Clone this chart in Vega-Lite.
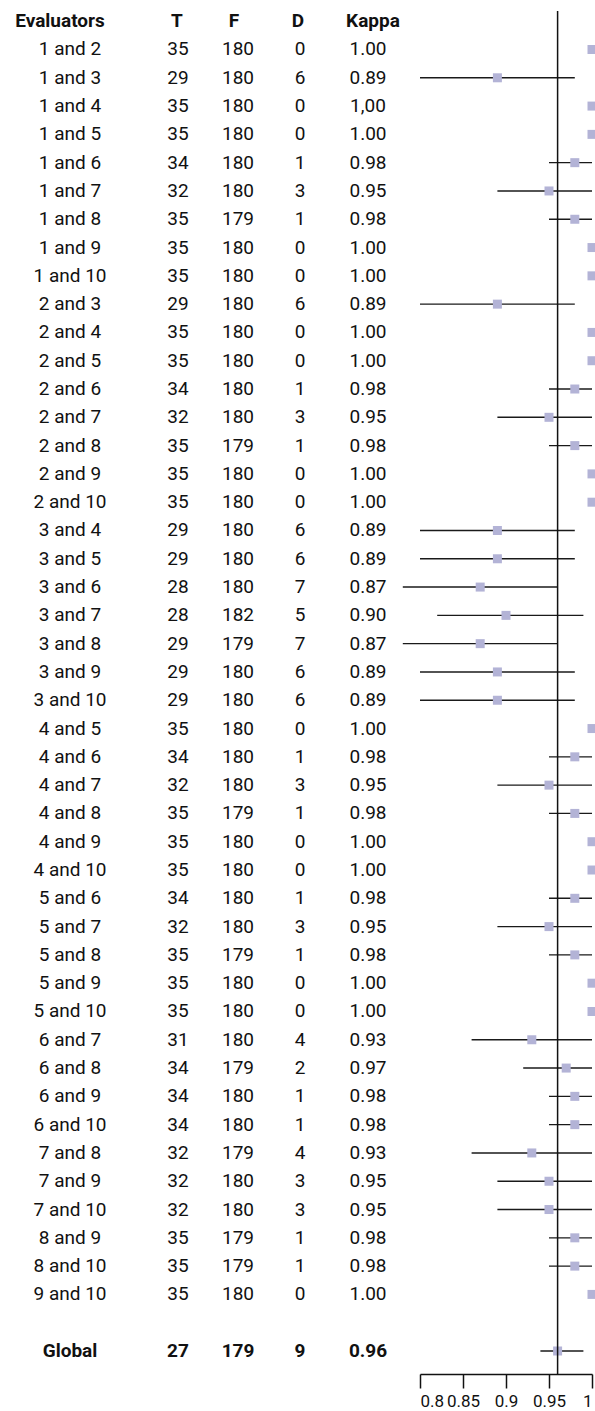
{
  "$schema": "https://vega.github.io/schema/vega-lite/v6.json",
  "padding": {"left": 0, "top": 10, "right": 0, "bottom": 0},
  "spacing": 0,
  "bounds": "flush",
  "config": {
    "view": {"stroke": null},
    "text": {"font": "Roboto", "fontSize": 19, "color": "#111111", "baseline": "middle", "align": "center"},
    "axis": {"labelFont": "Roboto"}
  },
  "datasets": {
    "pairs": [
      {"Evaluators": "1 and 2", "T": 35, "F": 180, "D": 0, "Kappa": "1.00", "k": 1.0, "lo": 1.0, "hi": 1.0},
      {"Evaluators": "1 and 3", "T": 29, "F": 180, "D": 6, "Kappa": "0.89", "k": 0.89, "lo": 0.80, "hi": 0.98},
      {"Evaluators": "1 and 4", "T": 35, "F": 180, "D": 0, "Kappa": "1,00", "k": 1.0, "lo": 1.0, "hi": 1.0},
      {"Evaluators": "1 and 5", "T": 35, "F": 180, "D": 0, "Kappa": "1.00", "k": 1.0, "lo": 1.0, "hi": 1.0},
      {"Evaluators": "1 and 6", "T": 34, "F": 180, "D": 1, "Kappa": "0.98", "k": 0.98, "lo": 0.95, "hi": 1.0},
      {"Evaluators": "1 and 7", "T": 32, "F": 180, "D": 3, "Kappa": "0.95", "k": 0.95, "lo": 0.89, "hi": 1.0},
      {"Evaluators": "1 and 8", "T": 35, "F": 179, "D": 1, "Kappa": "0.98", "k": 0.98, "lo": 0.95, "hi": 1.0},
      {"Evaluators": "1 and 9", "T": 35, "F": 180, "D": 0, "Kappa": "1.00", "k": 1.0, "lo": 1.0, "hi": 1.0},
      {"Evaluators": "1 and 10", "T": 35, "F": 180, "D": 0, "Kappa": "1.00", "k": 1.0, "lo": 1.0, "hi": 1.0},
      {"Evaluators": "2 and 3", "T": 29, "F": 180, "D": 6, "Kappa": "0.89", "k": 0.89, "lo": 0.80, "hi": 0.98},
      {"Evaluators": "2 and 4", "T": 35, "F": 180, "D": 0, "Kappa": "1.00", "k": 1.0, "lo": 1.0, "hi": 1.0},
      {"Evaluators": "2 and 5", "T": 35, "F": 180, "D": 0, "Kappa": "1.00", "k": 1.0, "lo": 1.0, "hi": 1.0},
      {"Evaluators": "2 and 6", "T": 34, "F": 180, "D": 1, "Kappa": "0.98", "k": 0.98, "lo": 0.95, "hi": 1.0},
      {"Evaluators": "2 and 7", "T": 32, "F": 180, "D": 3, "Kappa": "0.95", "k": 0.95, "lo": 0.89, "hi": 1.0},
      {"Evaluators": "2 and 8", "T": 35, "F": 179, "D": 1, "Kappa": "0.98", "k": 0.98, "lo": 0.95, "hi": 1.0},
      {"Evaluators": "2 and 9", "T": 35, "F": 180, "D": 0, "Kappa": "1.00", "k": 1.0, "lo": 1.0, "hi": 1.0},
      {"Evaluators": "2 and 10", "T": 35, "F": 180, "D": 0, "Kappa": "1.00", "k": 1.0, "lo": 1.0, "hi": 1.0},
      {"Evaluators": "3 and 4", "T": 29, "F": 180, "D": 6, "Kappa": "0.89", "k": 0.89, "lo": 0.80, "hi": 0.98},
      {"Evaluators": "3 and 5", "T": 29, "F": 180, "D": 6, "Kappa": "0.89", "k": 0.89, "lo": 0.80, "hi": 0.98},
      {"Evaluators": "3 and 6", "T": 28, "F": 180, "D": 7, "Kappa": "0.87", "k": 0.87, "lo": 0.78, "hi": 0.96},
      {"Evaluators": "3 and 7", "T": 28, "F": 182, "D": 5, "Kappa": "0.90", "k": 0.90, "lo": 0.82, "hi": 0.99},
      {"Evaluators": "3 and 8", "T": 29, "F": 179, "D": 7, "Kappa": "0.87", "k": 0.87, "lo": 0.78, "hi": 0.96},
      {"Evaluators": "3 and 9", "T": 29, "F": 180, "D": 6, "Kappa": "0.89", "k": 0.89, "lo": 0.80, "hi": 0.98},
      {"Evaluators": "3 and 10", "T": 29, "F": 180, "D": 6, "Kappa": "0.89", "k": 0.89, "lo": 0.80, "hi": 0.98},
      {"Evaluators": "4 and 5", "T": 35, "F": 180, "D": 0, "Kappa": "1.00", "k": 1.0, "lo": 1.0, "hi": 1.0},
      {"Evaluators": "4 and 6", "T": 34, "F": 180, "D": 1, "Kappa": "0.98", "k": 0.98, "lo": 0.95, "hi": 1.0},
      {"Evaluators": "4 and 7", "T": 32, "F": 180, "D": 3, "Kappa": "0.95", "k": 0.95, "lo": 0.89, "hi": 1.0},
      {"Evaluators": "4 and 8", "T": 35, "F": 179, "D": 1, "Kappa": "0.98", "k": 0.98, "lo": 0.95, "hi": 1.0},
      {"Evaluators": "4 and 9", "T": 35, "F": 180, "D": 0, "Kappa": "1.00", "k": 1.0, "lo": 1.0, "hi": 1.0},
      {"Evaluators": "4 and 10", "T": 35, "F": 180, "D": 0, "Kappa": "1.00", "k": 1.0, "lo": 1.0, "hi": 1.0},
      {"Evaluators": "5 and 6", "T": 34, "F": 180, "D": 1, "Kappa": "0.98", "k": 0.98, "lo": 0.95, "hi": 1.0},
      {"Evaluators": "5 and 7", "T": 32, "F": 180, "D": 3, "Kappa": "0.95", "k": 0.95, "lo": 0.89, "hi": 1.0},
      {"Evaluators": "5 and 8", "T": 35, "F": 179, "D": 1, "Kappa": "0.98", "k": 0.98, "lo": 0.95, "hi": 1.0},
      {"Evaluators": "5 and 9", "T": 35, "F": 180, "D": 0, "Kappa": "1.00", "k": 1.0, "lo": 1.0, "hi": 1.0},
      {"Evaluators": "5 and 10", "T": 35, "F": 180, "D": 0, "Kappa": "1.00", "k": 1.0, "lo": 1.0, "hi": 1.0},
      {"Evaluators": "6 and 7", "T": 31, "F": 180, "D": 4, "Kappa": "0.93", "k": 0.93, "lo": 0.86, "hi": 1.0},
      {"Evaluators": "6 and 8", "T": 34, "F": 179, "D": 2, "Kappa": "0.97", "k": 0.97, "lo": 0.92, "hi": 1.0},
      {"Evaluators": "6 and 9", "T": 34, "F": 180, "D": 1, "Kappa": "0.98", "k": 0.98, "lo": 0.95, "hi": 1.0},
      {"Evaluators": "6 and 10", "T": 34, "F": 180, "D": 1, "Kappa": "0.98", "k": 0.98, "lo": 0.95, "hi": 1.0},
      {"Evaluators": "7 and 8", "T": 32, "F": 179, "D": 4, "Kappa": "0.93", "k": 0.93, "lo": 0.86, "hi": 1.0},
      {"Evaluators": "7 and 9", "T": 32, "F": 180, "D": 3, "Kappa": "0.95", "k": 0.95, "lo": 0.89, "hi": 1.0},
      {"Evaluators": "7 and 10", "T": 32, "F": 180, "D": 3, "Kappa": "0.95", "k": 0.95, "lo": 0.89, "hi": 1.0},
      {"Evaluators": "8 and 9", "T": 35, "F": 179, "D": 1, "Kappa": "0.98", "k": 0.98, "lo": 0.95, "hi": 1.0},
      {"Evaluators": "8 and 10", "T": 35, "F": 179, "D": 1, "Kappa": "0.98", "k": 0.98, "lo": 0.95, "hi": 1.0},
      {"Evaluators": "9 and 10", "T": 35, "F": 180, "D": 0, "Kappa": "1.00", "k": 1.0, "lo": 1.0, "hi": 1.0},
      {"Evaluators": "Global", "T": 27, "F": 179, "D": 9, "Kappa": "0.96", "k": 0.96, "lo": 0.94, "hi": 0.99}
    ],
    "headers": [
      {"col": "Evaluators"}, {"col": "T"}, {"col": "F"}, {"col": "D"}, {"col": "Kappa"}
    ]
  },
  "data": {"name": "pairs"},
  "hconcat": [
    {
      "width": 140, "height": 1363,
      "layer": [
        {
          "data": {"name": "headers"},
          "transform": [{"filter": "datum.col === 'Evaluators'"}],
          "mark": {"type": "text", "fontWeight": "bold", "dx": -10},
          "encoding": {
            "y": {"datum": "Header", "type": "ordinal", "axis": null,
                  "scale": {"type": "point", "padding": 0, "range": [10.2, 1340], "domain": ["Header", "1 and 2", "1 and 3", "1 and 4", "1 and 5", "1 and 6", "1 and 7", "1 and 8", "1 and 9", "1 and 10", "2 and 3", "2 and 4", "2 and 5", "2 and 6", "2 and 7", "2 and 8", "2 and 9", "2 and 10", "3 and 4", "3 and 5", "3 and 6", "3 and 7", "3 and 8", "3 and 9", "3 and 10", "4 and 5", "4 and 6", "4 and 7", "4 and 8", "4 and 9", "4 and 10", "5 and 6", "5 and 7", "5 and 8", "5 and 9", "5 and 10", "6 and 7", "6 and 8", "6 and 9", "6 and 10", "7 and 8", "7 and 9", "7 and 10", "8 and 9", "8 and 10", "9 and 10", "gap", "Global"]}},
            "text": {"field": "col", "type": "nominal"}
          }
        },
        {
          "transform": [{"filter": "datum.Evaluators !== 'Global'"}],
          "mark": {"type": "text"},
          "encoding": {
            "y": {"field": "Evaluators", "type": "ordinal", "axis": null},
            "text": {"field": "Evaluators", "type": "nominal"}
          }
        },
        {
          "transform": [{"filter": "datum.Evaluators === 'Global'"}],
          "mark": {"type": "text", "fontWeight": "bold"},
          "encoding": {
            "y": {"field": "Evaluators", "type": "ordinal", "axis": null},
            "text": {"field": "Evaluators", "type": "nominal"}
          }
        }
      ]
    },
    {
      "width": 76, "height": 1363,
      "layer": [
        {
          "data": {"name": "headers"},
          "transform": [{"filter": "datum.col === 'T'"}],
          "mark": {"type": "text", "fontWeight": "bold", "dx": -1},
          "encoding": {
            "y": {"datum": "Header", "type": "ordinal", "axis": null,
                  "scale": {"type": "point", "padding": 0, "range": [10.2, 1340], "domain": ["Header", "1 and 2", "1 and 3", "1 and 4", "1 and 5", "1 and 6", "1 and 7", "1 and 8", "1 and 9", "1 and 10", "2 and 3", "2 and 4", "2 and 5", "2 and 6", "2 and 7", "2 and 8", "2 and 9", "2 and 10", "3 and 4", "3 and 5", "3 and 6", "3 and 7", "3 and 8", "3 and 9", "3 and 10", "4 and 5", "4 and 6", "4 and 7", "4 and 8", "4 and 9", "4 and 10", "5 and 6", "5 and 7", "5 and 8", "5 and 9", "5 and 10", "6 and 7", "6 and 8", "6 and 9", "6 and 10", "7 and 8", "7 and 9", "7 and 10", "8 and 9", "8 and 10", "9 and 10", "gap", "Global"]}},
            "text": {"field": "col", "type": "nominal"}
          }
        },
        {
          "transform": [{"filter": "datum.Evaluators !== 'Global'"}],
          "mark": {"type": "text"},
          "encoding": {
            "y": {"field": "Evaluators", "type": "ordinal", "axis": null},
            "text": {"field": "T", "type": "nominal"}
          }
        },
        {
          "transform": [{"filter": "datum.Evaluators === 'Global'"}],
          "mark": {"type": "text", "fontWeight": "bold"},
          "encoding": {
            "y": {"field": "Evaluators", "type": "ordinal", "axis": null},
            "text": {"field": "T", "type": "nominal"}
          }
        }
      ]
    },
    {
      "width": 44, "height": 1363,
      "layer": [
        {
          "data": {"name": "headers"},
          "transform": [{"filter": "datum.col === 'F'"}],
          "mark": {"type": "text", "fontWeight": "bold", "dx": -4},
          "encoding": {
            "y": {"datum": "Header", "type": "ordinal", "axis": null,
                  "scale": {"type": "point", "padding": 0, "range": [10.2, 1340], "domain": ["Header", "1 and 2", "1 and 3", "1 and 4", "1 and 5", "1 and 6", "1 and 7", "1 and 8", "1 and 9", "1 and 10", "2 and 3", "2 and 4", "2 and 5", "2 and 6", "2 and 7", "2 and 8", "2 and 9", "2 and 10", "3 and 4", "3 and 5", "3 and 6", "3 and 7", "3 and 8", "3 and 9", "3 and 10", "4 and 5", "4 and 6", "4 and 7", "4 and 8", "4 and 9", "4 and 10", "5 and 6", "5 and 7", "5 and 8", "5 and 9", "5 and 10", "6 and 7", "6 and 8", "6 and 9", "6 and 10", "7 and 8", "7 and 9", "7 and 10", "8 and 9", "8 and 10", "9 and 10", "gap", "Global"]}},
            "text": {"field": "col", "type": "nominal"}
          }
        },
        {
          "transform": [{"filter": "datum.Evaluators !== 'Global'"}],
          "mark": {"type": "text"},
          "encoding": {
            "y": {"field": "Evaluators", "type": "ordinal", "axis": null},
            "text": {"field": "F", "type": "nominal"}
          }
        },
        {
          "transform": [{"filter": "datum.Evaluators === 'Global'"}],
          "mark": {"type": "text", "fontWeight": "bold"},
          "encoding": {
            "y": {"field": "Evaluators", "type": "ordinal", "axis": null},
            "text": {"field": "F", "type": "nominal"}
          }
        }
      ]
    },
    {
      "width": 80, "height": 1363,
      "layer": [
        {
          "data": {"name": "headers"},
          "transform": [{"filter": "datum.col === 'D'"}],
          "mark": {"type": "text", "fontWeight": "bold", "dx": -2},
          "encoding": {
            "y": {"datum": "Header", "type": "ordinal", "axis": null,
                  "scale": {"type": "point", "padding": 0, "range": [10.2, 1340], "domain": ["Header", "1 and 2", "1 and 3", "1 and 4", "1 and 5", "1 and 6", "1 and 7", "1 and 8", "1 and 9", "1 and 10", "2 and 3", "2 and 4", "2 and 5", "2 and 6", "2 and 7", "2 and 8", "2 and 9", "2 and 10", "3 and 4", "3 and 5", "3 and 6", "3 and 7", "3 and 8", "3 and 9", "3 and 10", "4 and 5", "4 and 6", "4 and 7", "4 and 8", "4 and 9", "4 and 10", "5 and 6", "5 and 7", "5 and 8", "5 and 9", "5 and 10", "6 and 7", "6 and 8", "6 and 9", "6 and 10", "7 and 8", "7 and 9", "7 and 10", "8 and 9", "8 and 10", "9 and 10", "gap", "Global"]}},
            "text": {"field": "col", "type": "nominal"}
          }
        },
        {
          "transform": [{"filter": "datum.Evaluators !== 'Global'"}],
          "mark": {"type": "text"},
          "encoding": {
            "y": {"field": "Evaluators", "type": "ordinal", "axis": null},
            "text": {"field": "D", "type": "nominal"}
          }
        },
        {
          "transform": [{"filter": "datum.Evaluators === 'Global'"}],
          "mark": {"type": "text", "fontWeight": "bold"},
          "encoding": {
            "y": {"field": "Evaluators", "type": "ordinal", "axis": null},
            "text": {"field": "D", "type": "nominal"}
          }
        }
      ]
    },
    {
      "width": 56, "height": 1363,
      "layer": [
        {
          "data": {"name": "headers"},
          "transform": [{"filter": "datum.col === 'Kappa'"}],
          "mark": {"type": "text", "fontWeight": "bold", "dx": 5},
          "encoding": {
            "y": {"datum": "Header", "type": "ordinal", "axis": null,
                  "scale": {"type": "point", "padding": 0, "range": [10.2, 1340], "domain": ["Header", "1 and 2", "1 and 3", "1 and 4", "1 and 5", "1 and 6", "1 and 7", "1 and 8", "1 and 9", "1 and 10", "2 and 3", "2 and 4", "2 and 5", "2 and 6", "2 and 7", "2 and 8", "2 and 9", "2 and 10", "3 and 4", "3 and 5", "3 and 6", "3 and 7", "3 and 8", "3 and 9", "3 and 10", "4 and 5", "4 and 6", "4 and 7", "4 and 8", "4 and 9", "4 and 10", "5 and 6", "5 and 7", "5 and 8", "5 and 9", "5 and 10", "6 and 7", "6 and 8", "6 and 9", "6 and 10", "7 and 8", "7 and 9", "7 and 10", "8 and 9", "8 and 10", "9 and 10", "gap", "Global"]}},
            "text": {"field": "col", "type": "nominal"}
          }
        },
        {
          "transform": [{"filter": "datum.Evaluators !== 'Global'"}],
          "mark": {"type": "text"},
          "encoding": {
            "y": {"field": "Evaluators", "type": "ordinal", "axis": null},
            "text": {"field": "Kappa", "type": "nominal"}
          }
        },
        {
          "transform": [{"filter": "datum.Evaluators === 'Global'"}],
          "mark": {"type": "text", "fontWeight": "bold"},
          "encoding": {
            "y": {"field": "Evaluators", "type": "ordinal", "axis": null},
            "text": {"field": "Kappa", "type": "nominal"}
          }
        }
      ]
    },
    {
      "width": 199, "height": 1363,
      "layer": [
        {
          "mark": {"type": "rule", "color": "#1a1a1a", "strokeWidth": 1.4},
          "encoding": {
            "y": {"field": "Evaluators", "type": "ordinal", "axis": null,
                  "scale": {"type": "point", "padding": 0, "range": [10.2, 1340], "domain": ["Header", "1 and 2", "1 and 3", "1 and 4", "1 and 5", "1 and 6", "1 and 7", "1 and 8", "1 and 9", "1 and 10", "2 and 3", "2 and 4", "2 and 5", "2 and 6", "2 and 7", "2 and 8", "2 and 9", "2 and 10", "3 and 4", "3 and 5", "3 and 6", "3 and 7", "3 and 8", "3 and 9", "3 and 10", "4 and 5", "4 and 6", "4 and 7", "4 and 8", "4 and 9", "4 and 10", "5 and 6", "5 and 7", "5 and 8", "5 and 9", "5 and 10", "6 and 7", "6 and 8", "6 and 9", "6 and 10", "7 and 8", "7 and 9", "7 and 10", "8 and 9", "8 and 10", "9 and 10", "gap", "Global"]}},
            "x": {"field": "lo", "type": "quantitative",
                  "scale": {"domain": [0.8, 1.0], "range": [24, 196], "nice": false, "zero": false},
                  "axis": {"values": [0.8, 0.85, 0.9, 0.95, 1.0], "format": "~g", "title": null, "grid": false,
                           "domainColor": "#111111", "domainWidth": 1.5, "tickColor": "#111111", "tickWidth": 1.5,
                           "tickSize": 14, "labelFontSize": 17, "labelColor": "#111111", "labelPadding": 5,
                           "labelFont": "Roboto"}},
            "x2": {"field": "hi"}
          }
        },
        {
          "mark": {"type": "point", "shape": "square", "filled": true, "size": 81, "color": "#b3b3d6", "opacity": 1},
          "encoding": {
            "y": {"field": "Evaluators", "type": "ordinal"},
            "x": {"field": "k", "type": "quantitative"}
          }
        },
        {
          "transform": [{"filter": "datum.Evaluators === 'Global'"}],
          "mark": {"type": "rule", "color": "#111111", "strokeWidth": 1.5},
          "encoding": {
            "x": {"field": "k", "type": "quantitative"}
          }
        }
      ]
    }
  ]
}
